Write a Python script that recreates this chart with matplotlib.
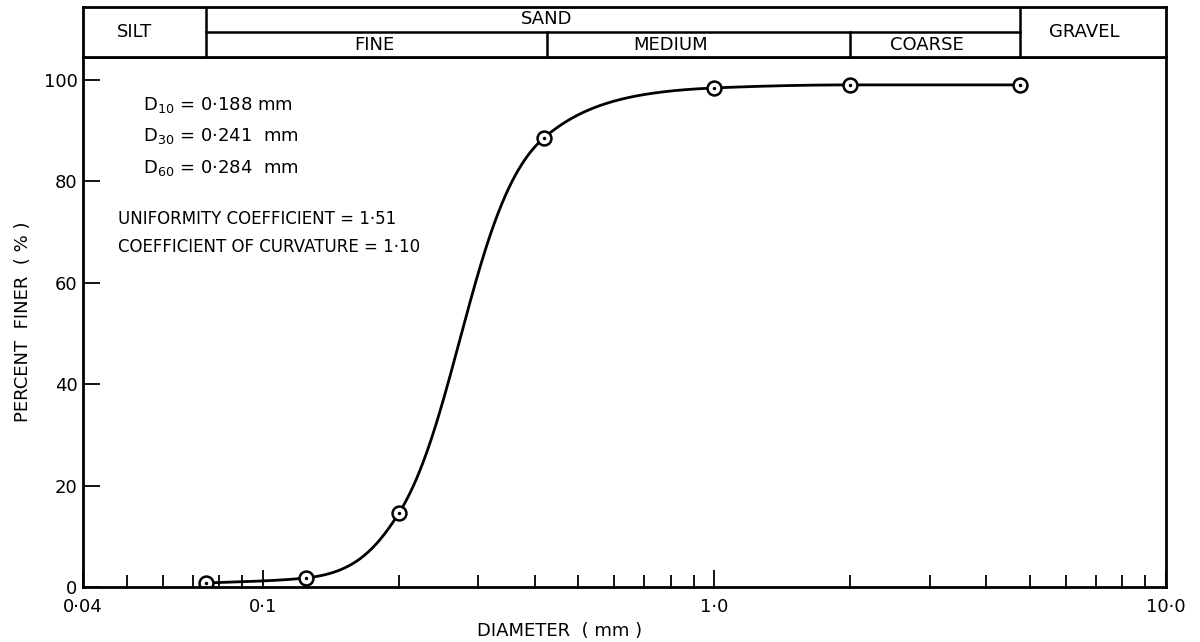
import numpy as np
import matplotlib
matplotlib.use("Agg")
import matplotlib.pyplot as plt
from matplotlib.ticker import FixedLocator, NullFormatter

# sieve analysis readings (mm, % finer)
diameter = [0.075, 0.125, 0.2, 0.42, 1.0, 2.0, 4.75]
percent_finer = [0.8, 1.8, 14.5, 88.6, 98.4, 99.0, 99.0]

# soil classification limits (mm)
silt_sand = 0.075
fine_medium = 0.425
medium_coarse = 2.0
sand_gravel = 4.75

x_major = [0.04, 0.1, 1.0, 10.0]
x_major_labels = ["0\u00b704", "0\u00b71", "1\u00b70", "10\u00b70"]
y_ticks = [0, 20, 40, 60, 80, 100]


def pchip(x, y, xn):
    """Monotone cubic Hermite (Fritsch-Carlson)."""
    x = np.asarray(x, float)
    y = np.asarray(y, float)
    h = np.diff(x)
    d = np.diff(y) / h
    n = len(x)
    m = np.zeros(n)
    m[0], m[-1] = d[0], d[-1]
    for k in range(1, n - 1):
        if d[k - 1] * d[k] <= 0:
            m[k] = 0.0
        else:
            w1 = 2 * h[k] + h[k - 1]
            w2 = h[k] + 2 * h[k - 1]
            m[k] = (w1 + w2) / (w1 / d[k - 1] + w2 / d[k])
    idx = np.clip(np.searchsorted(x, xn) - 1, 0, n - 2)
    t = (xn - x[idx]) / h[idx]
    h00 = 2 * t**3 - 3 * t**2 + 1
    h10 = t**3 - 2 * t**2 + t
    h01 = -2 * t**3 + 3 * t**2
    h11 = t**3 - t**2
    return (h00 * y[idx] + h10 * h[idx] * m[idx]
            + h01 * y[idx + 1] + h11 * h[idx] * m[idx + 1])


plt.rcParams['font.family'] = ['DejaVu Sans']

W, H = 1200, 642
fig = plt.figure(figsize=(W / 100, H / 100), dpi=100)

left, right = 83 / W, 1166 / W
bottom, top = 1 - 587 / H, 1 - 57 / H
ax = fig.add_axes([left, bottom, right - left, top - bottom])
hax = fig.add_axes([left, top, right - left, (57 - 7) / H])

# smooth grading curve: interpolate in log-diameter / logit-percent space
lx = np.log10(diameter)
p = np.array(percent_finer) / 100.0
z = np.log(p / (1 - p))
xs = np.linspace(lx[0], lx[-1], 800)
zs = pchip(lx, z, xs)
ys = 100.0 / (1 + np.exp(-zs))
ax.plot(10**xs, ys, color='black', lw=2)

ax.plot(diameter, percent_finer, 'o', ms=10, mfc='white', mec='black', mew=1.8)
ax.plot(diameter, percent_finer, '.', ms=3, color='black')

ax.set_xscale('log')
ax.set_xlim(0.04, 10.0)
ax.set_ylim(0, 104.5)

ax.xaxis.set_major_locator(FixedLocator(x_major))
ax.set_xticklabels(x_major_labels)
minor = [v * s for s in (0.01, 0.1, 1.0) for v in range(2, 10)]
ax.xaxis.set_minor_locator(FixedLocator([m for m in minor if 0.04 < m < 10]))
ax.xaxis.set_minor_formatter(NullFormatter())
ax.set_yticks(y_ticks)
ax.tick_params(axis='x', which='major', direction='in', length=12, width=1.3,
               labelsize=13, pad=8)
ax.tick_params(axis='x', which='minor', direction='in', length=9, width=1.3)
ax.tick_params(axis='y', direction='in', length=12, width=1.3, labelsize=13, pad=4)
for s in ax.spines.values():
    s.set_linewidth(2)

ax.set_xlabel("DIAMETER  ( mm )", fontsize=13, x=0.44, labelpad=4)
ax.set_ylabel("PERCENT  FINER  ( % )", fontsize=13, labelpad=8)

ax.text(0.055, 0.91, "D$_{\\mathregular{10}}$ = 0\u00b7188 mm",
        transform=ax.transAxes, fontsize=13, va='center')
ax.text(0.055, 0.85, "D$_{\\mathregular{30}}$ = 0\u00b7241  mm",
        transform=ax.transAxes, fontsize=13, va='center')
ax.text(0.055, 0.79, "D$_{\\mathregular{60}}$ = 0\u00b7284  mm",
        transform=ax.transAxes, fontsize=13, va='center')
ax.text(0.032, 0.695, "UNIFORMITY COEFFICIENT = 1\u00b751",
        transform=ax.transAxes, fontsize=12, va='center')
ax.text(0.032, 0.642, "COEFFICIENT OF CURVATURE = 1\u00b710",
        transform=ax.transAxes, fontsize=12, va='center')

# classification header
hax.set_xscale('log')
hax.set_xlim(0.04, 10.0)
hax.set_ylim(0, 1)
hax.set_xticks([])
hax.set_yticks([])
hax.minorticks_off()
for s in hax.spines.values():
    s.set_linewidth(2)
hax.plot([silt_sand, silt_sand], [0, 1], color='black', lw=1.8)
hax.plot([sand_gravel, sand_gravel], [0, 1], color='black', lw=1.8)
hax.plot([fine_medium, fine_medium], [0, 0.5], color='black', lw=1.8)
hax.plot([medium_coarse, medium_coarse], [0, 0.5], color='black', lw=1.8)
hax.plot([silt_sand, sand_gravel], [0.5, 0.5], color='black', lw=1.8)
hax.text(0.052, 0.5, "SILT", ha='center', va='center', fontsize=13)
hax.text(0.425, 0.75, "SAND", ha='center', va='center', fontsize=13)
hax.text(0.177, 0.25, "FINE", ha='center', va='center', fontsize=13)
hax.text(0.80, 0.25, "MEDIUM", ha='center', va='center', fontsize=13)
hax.text(2.96, 0.25, "COARSE", ha='center', va='center', fontsize=13)
hax.text(6.6, 0.5, "GRAVEL", ha='center', va='center', fontsize=13)

fig.savefig("out.png", dpi=100)
